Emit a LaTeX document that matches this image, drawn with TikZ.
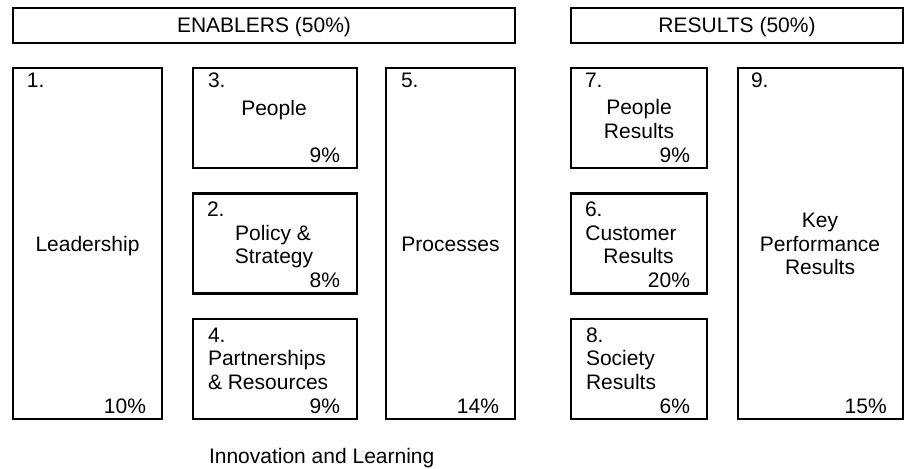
\documentclass[tikz,border=0pt]{standalone}
\usepackage{fontspec}
\setmainfont{Liberation Sans}
\begin{document}
\begin{tikzpicture}[x=1pt,y=1pt,
  frame/.style={draw=black, line width=2.4pt, inner sep=0pt, outer sep=0pt},
  txt/.style={inner sep=0pt, outer sep=0pt, font=\fontsize{21}{23.5}\selectfont},
  num/.style={txt, anchor=base west},
  mid/.style={txt, anchor=base},
  pct/.style={txt, anchor=base east}]
\useasboundingbox (0,0) rectangle (909,-468);

% headers
\node[frame, minimum width=502, minimum height=35] (hen) at (264,-25.5) {};
\node[mid] (hent) at (264,-33) {ENABLERS (50\%)};
\node[frame, minimum width=332, minimum height=35] (hres) at (737,-25.5) {};
\node[mid] (hrest) at (737,-33) {RESULTS (50\%)};

% enabler boxes
\node[frame, minimum width=149, minimum height=351] (b1) at (87.5,-243.5) {};
\node[frame, minimum width=164, minimum height=100] (b3) at (275,-118) {};
\node[frame, minimum width=164, minimum height=100] (b2) at (275,-243.5) {};
\node[frame, minimum width=164, minimum height=100] (b4) at (275,-369) {};
\node[frame, minimum width=129, minimum height=351] (b5) at (450.5,-243.5) {};

% result boxes
\node[frame, minimum width=136, minimum height=100] (b7) at (639,-118) {};
\node[frame, minimum width=136, minimum height=100] (b6) at (639,-243.5) {};
\node[frame, minimum width=136, minimum height=100] (b8) at (639,-369) {};
\node[frame, minimum width=165, minimum height=351] (b9) at (820.5,-243.5) {};

% 1. Leadership
\node[num] (l1a) at (27,-88) {1.};
\node[mid] (l1b) at (87.5,-251) {Leadership};
\node[pct] (l1c) at (146,-413) {10\%};

% 3. People
\node[num] (l3a) at (208,-87.5) {3.};
\node[mid] (l3b) at (274,-116) {People};
\node[pct] (l3c) at (340,-162.5) {9\%};

% 2. Policy & Strategy
\node[num] (l2a) at (207,-216.7) {2.};
\node[mid] (l2b) at (273,-240) {Policy \&};
\node[mid] (l2c) at (274,-263.5) {Strategy};
\node[pct] (l2d) at (340,-287) {8\%};

% 4. Partnerships & Resources
\node[num] (l4a) at (208,-342) {4.};
\node[num] (l4b) at (208,-365.5) {Partnerships};
\node[num] (l4c) at (208,-389) {\& Resources};
\node[pct] (l4d) at (340,-413) {9\%};

% 5. Processes
\node[num] (l5a) at (401,-88) {5.};
\node[mid] (l5b) at (450.5,-251) {Processes};
\node[pct] (l5c) at (499,-413) {14\%};

% 7. People Results
\node[num] (l7a) at (585,-88) {7.};
\node[mid] (l7b) at (639,-114.5) {People};
\node[mid] (l7c) at (639,-138.5) {Results};
\node[pct] (l7d) at (690,-162.5) {9\%};

% 6. Customer Results
\node[num] (l6a) at (585,-216.5) {6.};
\node[mid] (l6b) at (631,-240) {Customer};
\node[mid] (l6c) at (638.5,-263.5) {Results};
\node[pct] (l6d) at (690,-287) {20\%};

% 8. Society Results
\node[num] (l8a) at (586,-342) {8.};
\node[num] (l8b) at (586,-365.5) {Society};
\node[num] (l8c) at (586,-389) {Results};
\node[pct] (l8d) at (690,-413) {6\%};

% 9. Key Performance Results
\node[num] (l9a) at (751,-88) {9.};
\node[mid] (l9b) at (820,-227.5) {Key};
\node[mid] (l9c) at (820,-251) {Performance};
\node[mid] (l9d) at (820,-274.5) {Results};
\node[pct] (l9e) at (886.7,-413) {15\%};

% footer
\node[mid] (foot) at (321.7,-463) {Innovation and Learning};
\end{tikzpicture}
\end{document}
